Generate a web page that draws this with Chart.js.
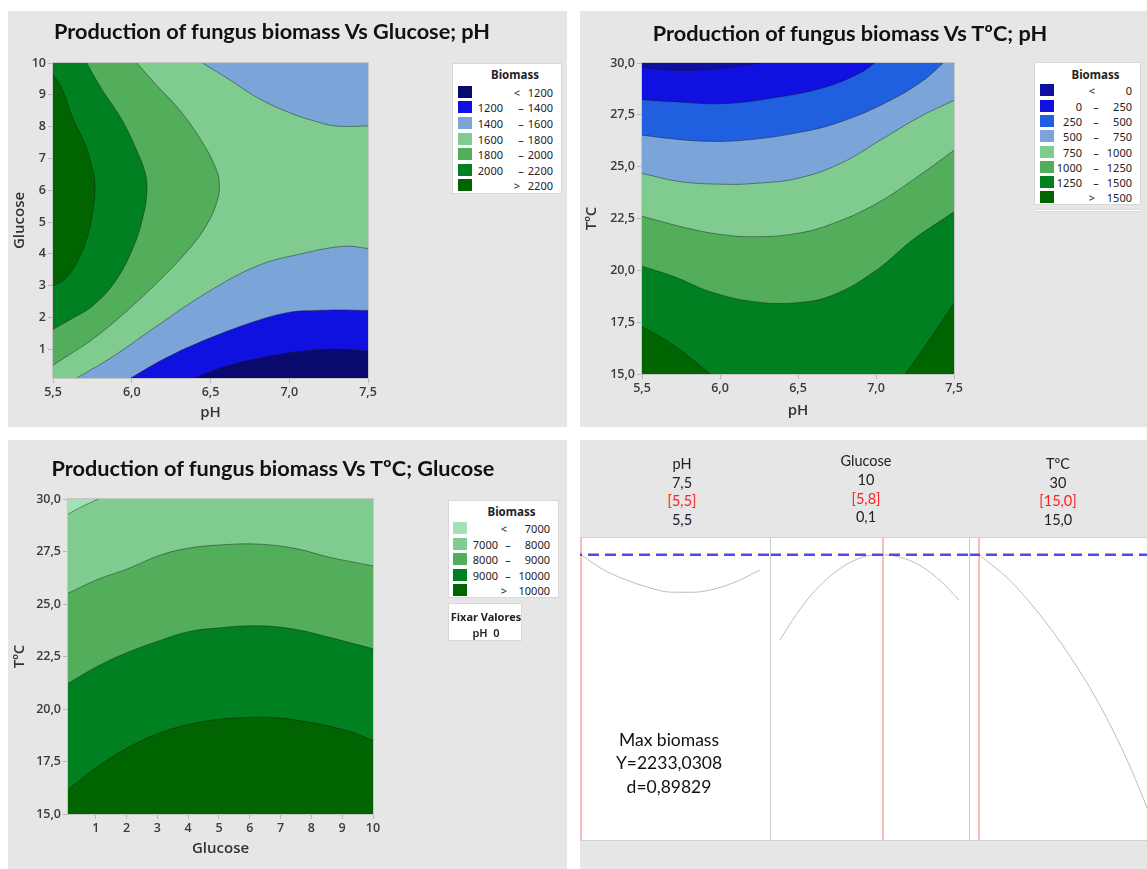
<!DOCTYPE html>
<html>
<head>
<meta charset="utf-8">
<title>Production of fungus biomass</title>
<script src="https://cdn.jsdelivr.net/npm/chart.js@4"></script>
<style>
body { margin: 0; background: #fff; width: 1147px; height: 869px; position: relative; overflow: hidden; font-family: 'Noto Sans', sans-serif; }
.panel { position: absolute; background: #e6e6e6; overflow: hidden; }
.panel canvas { position: absolute; }
.title { position: absolute; font-family: Lato, sans-serif; font-weight: 700; font-size: 21.7px; color: #111; white-space: nowrap; transform: translate(-50%, -50%); }
.legend { position: absolute; background: #fff; border: 1px solid #d8d8d8; box-sizing: border-box; font-size: 11px; color: #222; }
.sw { position: absolute; width: 14px; height: 12px; }
.sep { position: absolute; width: 1px; background: #c8c8c8; }
</style>
</head>
<body>

<div class="panel" id="p1" style="left:8px;top:11px;width:559px;height:416px">
  <canvas id="c1" width="559" height="416" style="left:0;top:0"></canvas>
  <div class="title" style="left:264px;top:20px">Production of fungus biomass Vs Glucose; pH</div>
</div>

<div class="panel" id="p2" style="left:580px;top:11px;width:567px;height:416px">
  <canvas id="c2" width="567" height="416" style="left:0;top:0"></canvas>
  <div class="title" style="left:270px;top:22px">Production of fungus biomass Vs TºC; pH</div>
</div>

<div class="panel" id="p3" style="left:8px;top:440px;width:559px;height:429px">
  <canvas id="c3" width="559" height="429" style="left:0;top:0"></canvas>
  <div class="title" style="left:265px;top:28px">Production of fungus biomass Vs TºC; Glucose</div>
</div>

<div class="panel" id="p4" style="left:580px;top:440px;width:567px;height:429px">
  <div style="position:absolute;left:0;top:97px;width:567px;height:304px;background:#fff;border-top:1px solid #d2d2d2;border-bottom:1px solid #d2d2d2;box-sizing:border-box"></div>
  <canvas id="o1" width="199" height="302" style="left:-9px;top:98px"></canvas>
  <canvas id="o2" width="199" height="302" style="left:190px;top:98px"></canvas>
  <canvas id="o3" width="199" height="302" style="left:389px;top:98px"></canvas>
  <div class="sep" style="left:190px;top:98px;height:302px"></div>
  <div class="sep" style="left:389px;top:98px;height:302px"></div>
</div>

<script>
// ---------- axes ----------
const phRange = [5.5, 7.5];
const glucoseRange = [0.1, 10];
const tempRange = [15, 30];
const phTicks = [5.5, 6.0, 6.5, 7.0, 7.5];
const glucoseTicks = [1, 2, 3, 4, 5, 6, 7, 8, 9, 10];
const tempTicks = [15, 17.5, 20, 22.5, 25, 27.5, 30];

// ---------- Biomass vs Glucose; pH   (points are [pH, glucose]) ----------
const gpLevels = [1200, 1400, 1600, 1800, 2000, 2200];
const gpColors = ['#0a0a6e', '#1010e0', '#7ba5d8', '#80cc90', '#52ae5a', '#008020', '#006400'];
const gp2200 = [[5.5, 9.63], [5.55, 9.27], [5.63, 8.22], [5.70, 7.49], [5.74, 6.86], [5.766, 6.24], [5.755, 5.41], [5.72, 4.57], [5.652, 3.74], [5.573, 3.2], [5.5, 3.0]];
const gp2000 = [[5.714, 10], [5.812, 9.16], [5.937, 8.22], [6.028, 7.29], [6.085, 6.55], [6.096, 5.98], [6.073, 5.2], [6.005, 4.15], [5.891, 3.11], [5.755, 2.38], [5.618, 1.96], [5.5, 1.63]];
const gp1800 = [[6.032, 10], [6.164, 9.27], [6.301, 8.54], [6.437, 7.6], [6.528, 6.76], [6.556, 6.24], [6.54, 5.62], [6.472, 4.88], [6.346, 4.05], [6.164, 3.11], [5.96, 2.17], [5.755, 1.33], [5.596, 0.81], [5.5, 0.5]];
const gp1600top = [[6.449, 10], [6.619, 9.48], [6.801, 8.9], [7.006, 8.43], [7.165, 8.17], [7.297, 8.02], [7.5, 8.02]];
const gp1600low = [[5.652, 0.1], [5.891, 0.81], [6.164, 1.75], [6.483, 2.8], [6.801, 3.63], [7.074, 4.0], [7.348, 4.24], [7.5, 4.17]];
const gp1400 = [[5.994, 0.1], [6.21, 0.71], [6.483, 1.33], [6.801, 1.91], [7.006, 2.17], [7.165, 2.22], [7.325, 2.24], [7.5, 2.22]];
const gp1200 = [[6.403, 0.1], [6.574, 0.43], [6.847, 0.76], [7.143, 0.97], [7.348, 1.0], [7.5, 0.94]];

// ---------- Biomass vs TºC; pH   (points are [pH, T]) ----------
const tpLevels = [0, 250, 500, 750, 1000, 1250, 1500];
const tpColors = ['#1010a0', '#1010e0', '#2060e0', '#7ba5d8', '#80cc90', '#52ae5a', '#008020', '#006400'];
const tp0 = [[5.5, 29.78], [5.708, 29.65], [5.916, 29.68], [6.101, 29.84], [6.263, 30]];
const tp250 = [[5.5, 28.23], [5.731, 28.12], [6.032, 28.04], [6.355, 28.33], [6.679, 28.84], [6.91, 29.57], [6.991, 30]];
const tp500 = [[5.5, 26.52], [5.685, 26.35], [5.893, 26.23], [6.147, 26.27], [6.494, 26.63], [6.772, 27.16], [7.072, 28.12], [7.303, 29.16], [7.431, 30]];
const tp750 = [[5.5, 24.67], [5.754, 24.27], [6.032, 24.15], [6.217, 24.19], [6.494, 24.43], [6.772, 25.15], [7.026, 26.27], [7.28, 27.4], [7.5, 28.2]];
const tp1000 = [[5.5, 22.61], [5.754, 22.1], [5.986, 21.75], [6.217, 21.62], [6.494, 21.78], [6.725, 22.26], [7.003, 23.22], [7.28, 24.59], [7.5, 25.79]];
const tp1250 = [[5.5, 20.2], [5.708, 19.69], [5.939, 18.97], [6.217, 18.49], [6.494, 18.44], [6.725, 18.81], [7.003, 20.01], [7.234, 21.46], [7.5, 22.82]];
const tp1500left = [[5.5, 17.28], [5.685, 16.48], [5.939, 15]];
const tp1500right = [[7.188, 15], [7.327, 16.48], [7.5, 18.41]];

// ---------- Biomass vs TºC; Glucose   (points are [glucose, T]) ----------
const tgLevels = [7000, 8000, 9000, 10000];
const tgColors = ['#a3e0b8', '#80cc90', '#52ae5a', '#008020', '#006400'];
const tg7000 = [[0.1, 29.28], [0.502, 29.6], [1.081, 30]];
const tg8000 = [[0.1, 25.51], [1.081, 26.18], [2.008, 26.66], [3.05, 27.3], [3.977, 27.65], [5.135, 27.82], [6.294, 27.85], [7.452, 27.65], [8.61, 27.22], [10, 26.82]];
const tg9000 = [[0.1, 21.22], [1.081, 22.05], [2.008, 22.68], [3.05, 23.24], [3.977, 23.67], [5.135, 23.88], [6.294, 23.96], [7.452, 23.8], [8.61, 23.4], [10, 22.87]];
const tg10000 = [[0.1, 16.16], [1.081, 17.27], [2.239, 18.31], [3.398, 19.02], [4.556, 19.42], [5.714, 19.58], [6.873, 19.58], [8.031, 19.34], [9.19, 18.95], [10, 18.5]];

// ---------- response optimizer ----------
const factorNames = ['pH', 'Glucose', 'TºC'];
const factorHighs = ['7,5', '10', '30'];
const factorLows = ['5,5', '0,1', '15,0'];
const optimumSettings = [5.5, 5.8, 15.0];
const optimumY = 2233.0308;
const desirability = 0.89829;
const optYRange = [-600, 2400];
const optPh = [5.5, 5.75, 6.0, 6.25, 6.5, 6.75, 7.0, 7.25, 7.5];
const optPhY = [2233, 2085, 1985, 1910, 1862, 1861, 1895, 1973, 2082];
const optGlu = [0.1, 1, 2, 3, 4, 5, 5.8, 7, 8, 9, 10];
const optGluY = [1387, 1640, 1870, 2040, 2160, 2225, 2233, 2195, 2110, 1970, 1784];
const optT = [15, 17.5, 20, 22.5, 25, 27.5, 30];
const optTY = [2233, 1989, 1653, 1248, 766, 171, -550];

// ---------- helpers ----------
const tickFont = { family: "'Open Sans', sans-serif", size: 12.5, weight: '600' };
const axisTitleFont = { family: "'Open Sans', sans-serif", size: 15, weight: '600' };
const comma = (v, d) => v.toFixed(d).replace('.', ',');
const smooth = 0.4;

function pts(list) {
  return list.map(p => ({ x: p[0], y: p[1] }));
}

// filled band: the contour, then the plot corners that close it.
// Junction points are doubled so the spline stays straight along the edges.
function area(curve, corners, color) {
  const list = curve.length ? curve.concat([curve[curve.length - 1]]) : [];
  corners.forEach(k => list.push(k, k));
  return { data: pts(list), fill: 'shape', backgroundColor: color, borderColor: 'transparent',
    borderWidth: 0, pointRadius: 0, tension: smooth, clip: false };
}

function isoline(list) {
  return { data: pts(list), fill: false, borderColor: 'rgba(20,20,20,0.55)', borderWidth: 0.8,
    pointRadius: 0, tension: smooth };
}

function axisOpts(range, ticks, fmt, title, size, titlePad) {
  return {
    type: 'linear', min: range[0], max: range[1],
    afterBuildTicks: a => { a.ticks = ticks.map(v => ({ value: v })); },
    afterFit: a => { if (a.isHorizontal()) a.height = size; else a.width = size; },
    ticks: { callback: fmt, color: '#3a3a3a', font: tickFont, padding: 2, autoSkip: false, maxRotation: 0 },
    grid: { drawOnChartArea: false, tickLength: 5, color: '#b8b8b8' },
    border: { display: false },
    title: { display: true, text: title, color: '#333', font: axisTitleFont, padding: titlePad }
  };
}

const frame = {
  id: 'frame',
  afterDatasetsDraw(chart) {
    const { ctx, chartArea: a } = chart;
    ctx.save();
    ctx.strokeStyle = '#c6c6c6';
    ctx.lineWidth = 1;
    ctx.strokeRect(a.left - 0.5, a.top - 0.5, a.right - a.left + 1, a.bottom - a.top + 1);
    ctx.restore();
  }
};

function contourPlot(id, c) {
  const [x0, x1] = c.x.range, [y0, y1] = c.y.range;
  const sets = [area([], [[x0, y0], [x1, y0], [x1, y1], [x0, y1]], c.base)];
  c.zones.forEach(z => sets.push(area(z[0], z[1], z[2])));
  c.lines.forEach(l => sets.push(isoline(l)));
  sets.reverse(); // Chart.js paints the last dataset first

  new Chart(document.getElementById(id), {
    type: 'line',
    data: { datasets: sets },
    options: {
      responsive: false, animation: false, devicePixelRatio: 1, events: [],
      layout: { padding: c.padding },
      plugins: { legend: { display: false }, tooltip: { enabled: false } },
      scales: {
        x: axisOpts(c.x.range, c.x.ticks, c.x.fmt, c.x.title, c.x.size, { top: 0, bottom: c.x.pad }),
        y: axisOpts(c.y.range, c.y.ticks, c.y.fmt, c.y.title, c.y.size, { top: 3, bottom: 0 })
      }
    },
    plugins: [frame]
  });
}

function addText(parent, text, x, y, align, style) {
  const s = document.createElement('span');
  s.textContent = text;
  Object.assign(s.style, { position: 'absolute', left: x + 'px', top: y + 'px', whiteSpace: 'pre', lineHeight: '1' });
  const dx = align === 'right' ? '-100%' : align === 'left' ? '0' : '-50%';
  s.style.transform = 'translate(' + dx + ',-50%)';
  Object.assign(s.style, style || {});
  parent.appendChild(s);
  return s;
}

function legendBox(panelId, levels, colors, g) {
  const box = document.createElement('div');
  box.className = 'legend';
  Object.assign(box.style, { left: g.left + 'px', top: g.top + 'px', width: g.w + 'px', height: g.h + 'px' });
  document.getElementById(panelId).appendChild(box);
  addText(box, 'Biomass', g.w / 2 + 7, g.titleY, 'center', { fontWeight: '700', fontSize: '11.5px' });
  const n = levels.length;
  for (let i = 0; i <= n; i++) {
    const y = g.row0 + i * g.step;
    const sw = document.createElement('div');
    sw.className = 'sw';
    Object.assign(sw.style, { left: g.sw + 'px', top: (y - 6) + 'px', background: colors[i] });
    box.appendChild(sw);
    if (i === 0) {
      addText(box, '<', g.sepX - 4, y, 'center');
      addText(box, String(levels[0]), g.hiX, y, 'right');
    } else if (i === n) {
      addText(box, '>', g.sepX - 4, y, 'center');
      addText(box, String(levels[n - 1]), g.hiX, y, 'right');
    } else {
      addText(box, String(levels[i - 1]), g.loX, y, 'right');
      addText(box, '–', g.sepX, y, 'center');
      addText(box, String(levels[i]), g.hiX, y, 'right');
    }
  }
  return box;
}

// ---------- contour plots ----------
const phAxis = { range: phRange, ticks: phTicks, fmt: v => comma(v, 1), title: 'pH' };
const tempAxis = { range: tempRange, ticks: tempTicks, fmt: v => comma(v, 1), title: 'TºC' };
const gluAxis = { range: glucoseRange, ticks: glucoseTicks, fmt: v => String(v), title: 'Glucose' };

contourPlot('c1', {
  padding: { left: 0, top: 52, right: 199, bottom: 0 },
  x: Object.assign({ size: 49, pad: 5 }, phAxis),
  y: Object.assign({ size: 45 }, gluAxis),
  base: gpColors[3],
  zones: [
    [gp1800, [[5.5, 10]], gpColors[4]],
    [gp2000, [[5.5, 10]], gpColors[5]],
    [gp2200, [], gpColors[6]],
    [gp1600top, [[7.5, 10]], gpColors[2]],
    [gp1600low, [[7.5, 0.1]], gpColors[2]],
    [gp1400, [[7.5, 0.1]], gpColors[1]],
    [gp1200, [[7.5, 0.1]], gpColors[0]]
  ],
  lines: [gp2200, gp2000, gp1800, gp1600top, gp1600low, gp1400, gp1200]
});

contourPlot('c2', {
  padding: { left: 0, top: 52, right: 193, bottom: 0 },
  x: Object.assign({ size: 53, pad: 7 }, phAxis),
  y: Object.assign({ size: 62 }, tempAxis),
  base: tpColors[6],
  zones: [
    [tp1250, [[7.5, 30], [5.5, 30]], tpColors[5]],
    [tp1000, [[7.5, 30], [5.5, 30]], tpColors[4]],
    [tp750, [[7.5, 30], [5.5, 30]], tpColors[3]],
    [tp500, [[5.5, 30]], tpColors[2]],
    [tp250, [[5.5, 30]], tpColors[1]],
    [tp0, [[5.5, 30]], tpColors[0]],
    [tp1500left, [[5.5, 15]], tpColors[7]],
    [tp1500right, [[7.5, 15]], tpColors[7]]
  ],
  lines: [tp0, tp250, tp500, tp750, tp1000, tp1250, tp1500left, tp1500right]
});

contourPlot('c3', {
  padding: { left: 0, top: 59, right: 194, bottom: 0 },
  x: Object.assign({ size: 55, pad: 11 }, gluAxis),
  y: Object.assign({ size: 60 }, tempAxis),
  base: tgColors[4],
  zones: [
    [tg10000, [[10, 30], [0.1, 30]], tgColors[3]],
    [tg9000, [[10, 30], [0.1, 30]], tgColors[2]],
    [tg8000, [[10, 30], [0.1, 30]], tgColors[1]],
    [tg7000, [[0.1, 30]], tgColors[0]]
  ],
  lines: [tg7000, tg8000, tg9000, tg10000]
});

legendBox('p1', gpLevels, gpColors, { left: 444, top: 52, w: 110, h: 131, titleY: 11, row0: 27.7, step: 15.6, sw: 5, loX: 50, sepX: 68, hiX: 100 });
legendBox('p2', tpLevels, tpColors, { left: 454, top: 51, w: 107, h: 143, titleY: 12.3, row0: 27.3, step: 15.3, sw: 5, loX: 47, sepX: 61, hiX: 97 });
legendBox('p3', tgLevels, tgColors, { left: 440, top: 60, w: 111, h: 98, titleY: 10.7, row0: 27.3, step: 15.4, sw: 4, loX: 49, sepX: 59, hiX: 101 });

// empty box under the T/pH legend
const strip = document.createElement('div');
Object.assign(strip.style, { position: 'absolute', left: '454px', top: '198px', width: '107px', height: '3px', background: '#fff', border: '1px solid #dcdcdc', boxSizing: 'border-box' });
document.getElementById('p2').appendChild(strip);

// held value box
const held = document.createElement('div');
held.className = 'legend';
Object.assign(held.style, { left: '440px', top: '163px', width: '74px', height: '38px' });
document.getElementById('p3').appendChild(held);
addText(held, 'Fixar Valores', 37, 11.5, 'center', { fontWeight: '700' });
addText(held, 'pH  0', 37, 28, 'center', { fontWeight: '600' });

// ---------- optimizer columns ----------
function optColumn(id, xs, ys, lo, hi, current) {
  const pad = (hi - lo) * 0.056;
  new Chart(document.getElementById(id), {
    type: 'line',
    data: {
      datasets: [
        { data: [{ x: lo - pad, y: optimumY }, { x: hi + pad, y: optimumY }], borderColor: '#4b4bf0',
          borderWidth: 2.5, borderDash: [11, 6], pointRadius: 0 },
        { data: xs.map((x, i) => ({ x: x, y: ys[i] })), borderColor: '#bcbcbc', borderWidth: 1,
          pointRadius: 0, cubicInterpolationMode: 'monotone' },
        { data: [{ x: current, y: optYRange[0] }, { x: current, y: optYRange[1] }], borderColor: '#f07a7a',
          borderWidth: 1, pointRadius: 0 }
      ]
    },
    options: {
      responsive: false, animation: false, devicePixelRatio: 1, events: [],
      layout: { padding: 0 },
      plugins: { legend: { display: false }, tooltip: { enabled: false } },
      scales: {
        x: { type: 'linear', display: false, min: lo - pad, max: hi + pad },
        y: { type: 'linear', display: false, min: optYRange[0], max: optYRange[1] }
      }
    }
  });
}

optColumn('o1', optPh, optPhY, phRange[0], phRange[1], optimumSettings[0]);
optColumn('o2', optGlu, optGluY, glucoseRange[0], glucoseRange[1], optimumSettings[1]);
optColumn('o3', optT, optTY, tempRange[0], tempRange[1], optimumSettings[2]);

// header: factor name, high, [current], low
const p4 = document.getElementById('p4');
const headX = [102, 286, 478];
const headShift = [0, -2.7, 0];
const headFont = { fontFamily: 'Lato, sans-serif', fontSize: '14.5px', color: '#222' };
factorNames.forEach((name, i) => {
  const y = 24 + headShift[i];
  addText(p4, name, headX[i], y, 'center', headFont);
  addText(p4, factorHighs[i], headX[i], y + 18.7, 'center', headFont);
  addText(p4, '[' + comma(optimumSettings[i], 1) + ']', headX[i], y + 37.4, 'center', Object.assign({}, headFont, { color: '#ff2020' }));
  addText(p4, factorLows[i], headX[i], y + 56, 'center', headFont);
});

const maxFont = { fontFamily: 'Lato, sans-serif', fontSize: '17.5px', color: '#111' };
addText(p4, 'Max biomass', 89, 300, 'center', maxFont);
addText(p4, 'Y=' + comma(optimumY, 4), 89, 323.3, 'center', maxFont);
addText(p4, 'd=' + comma(desirability, 5), 89, 346.7, 'center', maxFont);
</script>
</body>
</html>
